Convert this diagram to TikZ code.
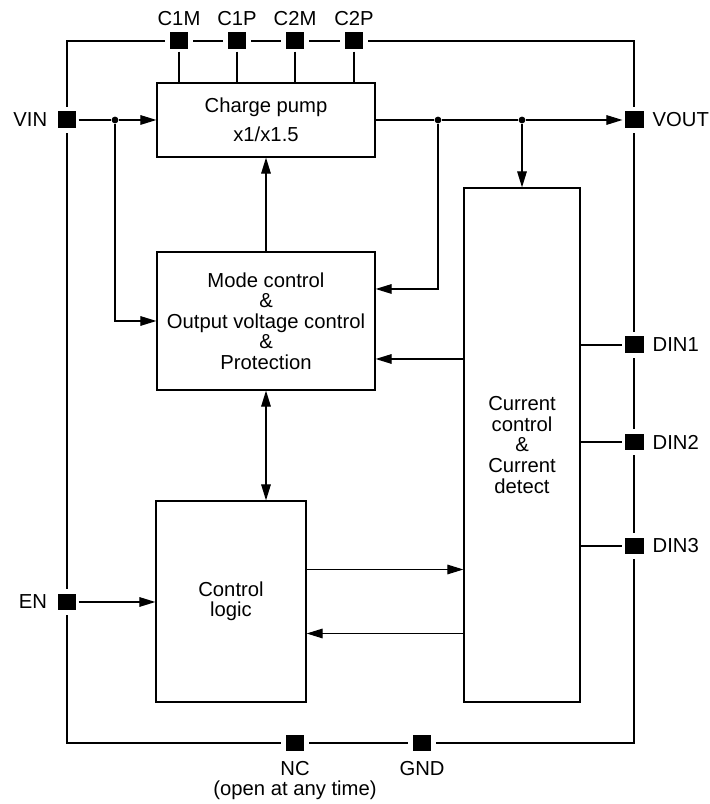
\documentclass[tikz,border=0pt]{standalone}
\usepackage{fontspec}
\setmainfont{Liberation Sans}
\usetikzlibrary{arrows.meta, positioning}

\begin{document}
\begin{tikzpicture}[
    >={Triangle[length=4mm, width=2.4mm]},
    block/.style={draw, line width=0.9pt, align=center, inner sep=0pt, font=\fontsize{14.4}{14.6}\selectfont},
    padsq/.style={draw=white, fill=black, line width=3pt, minimum width=0.58cm, minimum height=0.53cm, inner sep=0pt, outer sep=0pt},
    plabel/.style={inner sep=0pt, font=\fontsize{14.4}{14.6}\selectfont},
    wire/.style={line width=0.8pt},
    sig/.style={wire, ->},
    junct/.style={circle, fill=black, inner sep=0pt, minimum size=0.17cm}
]
\useasboundingbox (0,0) rectangle (17.725,20.1);

% Chip outline
\draw[wire] (1.675,1.525) rectangle (15.85,19.075);

% Blocks
\node[block, minimum width=5.45cm, minimum height=1.85cm] (pump) at (6.65,17.1) {Charge pump\\[6pt]x1/x1.5};
\node[block, minimum width=5.45cm, minimum height=3.45cm] (mode) at (6.65,12.075) {Mode control\\\&\\Output voltage control\\\&\\Protection};
\node[block, minimum width=3.75cm, minimum height=5.025cm] (logic) at (5.775,5.0625) {Control\\logic};
\node[block, minimum width=2.9cm, minimum height=12.85cm] (cur) at (13.05,8.975) {Current\\control\\\&\\Current\\detect};

% Pads: top row
\node[padsq] (c1m) at (4.475,19.075) {};
\node[padsq] (c1p) at (5.925,19.075) {};
\node[padsq] (c2m) at (7.375,19.075) {};
\node[padsq] (c2p) at (8.85,19.075) {};
% Pads: left side
\node[padsq] (vin) at (1.675,17.1) {};
\node[padsq] (en) at (1.675,5.05) {};
% Pads: right side
\node[padsq] (vout) at (15.85,17.1) {};
\node[padsq] (din1) at (15.85,11.475) {};
\node[padsq] (din2) at (15.85,9.05) {};
\node[padsq] (din3) at (15.85,6.45) {};
% Pads: bottom row
\node[padsq] (nc) at (7.375,1.525) {};
\node[padsq] (gnd) at (10.55,1.525) {};

% Pad labels
\node[plabel, above=0.1cm of c1m] {C1M};
\node[plabel, above=0.1cm of c1p] {C1P};
\node[plabel, above=0.1cm of c2m] {C2M};
\node[plabel, above=0.1cm of c2p] {C2P};
\node[plabel, left=0.2cm of vin] {VIN};
\node[plabel, left=0.2cm of en] {EN};
\node[plabel, right=0.17cm of vout] {VOUT};
\node[plabel, right=0.17cm of din1] {DIN1};
\node[plabel, right=0.17cm of din2] {DIN2};
\node[plabel, right=0.17cm of din3] {DIN3};
\node[plabel, below=0.18cm of nc] (nclbl) {NC};
\node[plabel, below=0.12cm of nclbl] {(open at any time)};
\node[plabel, below=0.18cm of gnd] {GND};

% Capacitor pads to charge pump
\foreach \p in {c1m,c1p,c2m,c2p}
    \draw[wire] (\p) -- (\p |- pump.north);

% VIN
\node[junct] (jin) at (2.875,17.1) {};
\draw[wire] (vin) -- (jin);
\draw[sig] (jin) -- (pump.west);
\draw[sig] (jin) |- (mode.west);

% VOUT
\node[junct] (ja) at (10.95,17.1) {};
\node[junct] (jb) at (13.05,17.1) {};
\draw[wire] (pump.east) -- (ja) -- (jb);
\draw[sig] (jb) -- (vout);
\draw[sig] (ja) |- ([yshift=0.8cm]mode.east);
\draw[sig] (jb) -- (cur.north);

% Mode control links
\draw[sig] (mode.north) -- (pump.south);
\coordinate (fb) at ([yshift=-0.95cm]mode.east);
\draw[sig] (fb -| cur.west) -- (fb);
\draw[wire, <->] (mode.south) -- (mode.south |- logic.north);

% Control logic links
\coordinate (lu) at ([yshift=0.8cm]logic.east);
\coordinate (ld) at ([yshift=-0.8cm]logic.east);
\draw[sig] (lu) -- (lu -| cur.west);
\draw[sig] (ld -| cur.west) -- (ld);
\draw[sig] (en) -- (en -| logic.west);

% LED pads
\foreach \d in {din1,din2,din3}
    \draw[wire] (\d -| cur.east) -- (\d);
\end{tikzpicture}
\end{document}
